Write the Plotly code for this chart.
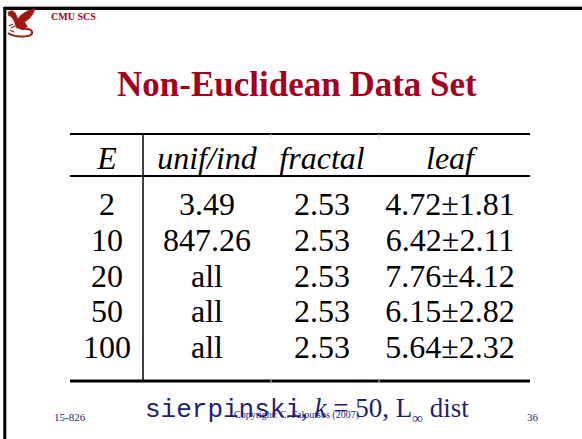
import plotly.graph_objects as go

W, H = 582, 439

# ---------------- data ----------------
header = ["E", "unif/ind", "fractal", "leaf"]
dims = ["2", "10", "20", "50", "100"]
unif_ind = ["3.49", "847.26", "all", "all", "all"]
fractal = ["2.53", "2.53", "2.53", "2.53", "2.53"]
leaf_mean = ["4.72", "6.42", "7.76", "6.15", "5.64"]
leaf_std = ["1.81", "2.11", "4.12", "2.82", "2.32"]

title_text = "Non-Euclidean Data Set"
brand_text = "CMU SCS"
course_text = "15-826"
page_text = "36"
copyright_text = "Copyright: C. Faloutsos (2007)"
dataset_name = "sierpinski"
k_value = "50"
metric_sub = "∞"

# ---------------- layout constants ----------------
COL_X = [107, 207, 322, 450]
HEADER_Y = 161
ROW_Y = [207, 243, 279, 314, 350]
TABLE_X0, TABLE_X1 = 70, 530
RULE_TOP, RULE_HEAD, RULE_BOT = 134, 176, 381
VLINE_X = 143

RED = "#A3001E"
NAVY = "#1E1E78"
SERIF = "Liberation Serif, Times New Roman, Times, serif"
MONO = "Liberation Mono"

leaf = [f"{m}±{s}" for m, s in zip(leaf_mean, leaf_std)]
columns = [dims, unif_ind, fractal, leaf]

fig = go.Figure()

# header
fig.add_trace(go.Scatter(
    x=COL_X, y=[HEADER_Y] * len(header), mode="text",
    text=[f"<i>{h}</i>" for h in header],
    textposition="middle center",
    textfont=dict(family=SERIF, size=32, color="black"),
    hoverinfo="skip", showlegend=False))

# body columns
for cx, col in zip(COL_X, columns):
    fig.add_trace(go.Scatter(
        x=[cx] * len(col), y=ROW_Y, mode="text", text=col,
        textposition="middle center",
        textfont=dict(family=SERIF, size=32, color="black"),
        hoverinfo="skip", showlegend=False))

shapes = []
# slide frame
shapes.append(dict(type="line", x0=4, x1=W, y0=6.3, y1=6.3, line=dict(color="#9a9a9a", width=1)))
shapes.append(dict(type="line", x0=3.5, x1=W, y0=8.6, y1=8.6, line=dict(color="black", width=3)))
shapes.append(dict(type="line", x0=4.8, x1=4.8, y0=7, y1=H, line=dict(color="black", width=3)))

# table rules
shapes.append(dict(type="line", x0=TABLE_X0, x1=TABLE_X1, y0=RULE_TOP, y1=RULE_TOP, line=dict(color="black", width=2)))
shapes.append(dict(type="line", x0=TABLE_X0, x1=TABLE_X1, y0=RULE_HEAD, y1=RULE_HEAD, line=dict(color="black", width=2)))
shapes.append(dict(type="line", x0=TABLE_X0, x1=TABLE_X1, y0=RULE_BOT, y1=RULE_BOT, line=dict(color="black", width=3)))
shapes.append(dict(type="line", x0=VLINE_X, x1=VLINE_X, y0=RULE_TOP, y1=RULE_BOT, line=dict(color="black", width=1.5)))
for fx in (271, 379):
    shapes.append(dict(type="line", x0=fx, x1=fx, y0=RULE_TOP, y1=RULE_TOP + 4, line=dict(color="#cfcfcf", width=1)))
    shapes.append(dict(type="line", x0=fx, x1=fx, y0=RULE_BOT - 3, y1=RULE_BOT + 3, line=dict(color="#cfcfcf", width=1)))

# rough dragon logo
LOGO = "#9B1B10"
shapes.append(dict(type="path", path="M 16 21 L 21 15 L 27 11 L 35 8.5 L 33.5 13 L 30 18 L 25 22 Z",
                   fillcolor=LOGO, line=dict(color=LOGO, width=0.5)))
shapes.append(dict(type="path", path="M 8 12 L 12 10.5 L 15.5 13 L 18 19 L 15 22 L 11.5 17 L 8.5 15.5 Z",
                   fillcolor=LOGO, line=dict(color=LOGO, width=0.5)))
shapes.append(dict(type="path", path="M 14 20 L 24 21.5 L 27.5 26.5 L 22.5 30 L 16 27.5 Z",
                   fillcolor=LOGO, line=dict(color=LOGO, width=0.5)))
shapes.append(dict(type="path", path="M 22 29 Q 33 28 32 33.5 Q 30 37 20 36.5 Q 12 36 8 33",
                   line=dict(color=LOGO, width=2)))
shapes.append(dict(type="path", path="M 15 26 L 11 28 M 13 24 L 9 26 M 10 30 L 14 32",
                   line=dict(color=LOGO, width=1.2)))

annotations = [
    dict(x=297, y=84, text=f"<b>{title_text}</b>", showarrow=False,
         xanchor="center", yanchor="middle",
         font=dict(family=SERIF, size=35, color=RED)),
    dict(x=49, y=16, text=f"<b>{brand_text}</b>", showarrow=False,
         xanchor="left", yanchor="middle",
         font=dict(family=SERIF, size=10, color=RED)),
    dict(x=70, y=416.5, text=course_text, showarrow=False,
         xanchor="center", yanchor="middle",
         font=dict(family=SERIF, size=11, color=NAVY)),
    dict(x=532.5, y=416.5, text=page_text, showarrow=False,
         xanchor="center", yanchor="middle",
         font=dict(family=SERIF, size=11, color=NAVY)),
    dict(x=143, y=409, showarrow=False, xanchor="left", yanchor="middle",
         text=(f'<span style="font-family:{MONO};font-size:26px">{dataset_name}</span>, '
               f'<i>k</i> = {k_value}, L<sub><span style="font-size:15px">{metric_sub}</span></sub> dist'),
         font=dict(family=SERIF, size=27, color=NAVY)),
    dict(x=296, y=415, text=copyright_text, showarrow=False,
         xanchor="center", yanchor="middle",
         font=dict(family=SERIF, size=10, color=NAVY)),
]

fig.update_layout(
    width=W, height=H,
    margin=dict(l=0, r=0, t=0, b=0),
    paper_bgcolor="white", plot_bgcolor="white",
    font=dict(family=SERIF),
    xaxis=dict(range=[0, W], visible=False, fixedrange=True),
    yaxis=dict(range=[H, 0], visible=False, fixedrange=True),
    shapes=shapes, annotations=annotations,
    showlegend=False,
)

fig.write_html("out.html", config={"displayModeBar": False},
               post_script="document.body.style.margin='0';")
